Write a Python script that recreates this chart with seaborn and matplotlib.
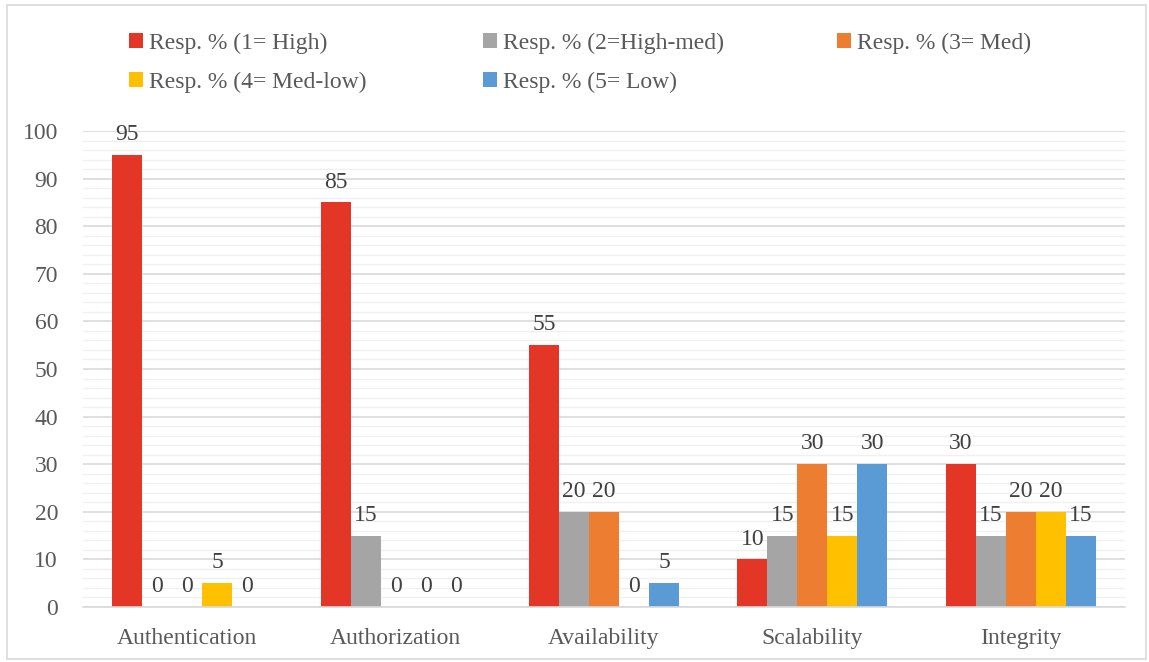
import matplotlib
matplotlib.use("Agg")
import matplotlib.pyplot as plt
from matplotlib.patches import Rectangle, Patch
from matplotlib.ticker import MultipleLocator
import seaborn as sns
import pandas as pd

categories = ["Authentication", "Authorization", "Availability", "Scalability", "Integrity"]
series_names = [
    "Resp. % (1= High)",
    "Resp. % (2=High-med)",
    "Resp. % (3= Med)",
    "Resp. % (4= Med-low)",
    "Resp. % (5= Low)",
]
high = [95, 85, 55, 10, 30]
high_med = [0, 15, 20, 15, 15]
med = [0, 0, 20, 30, 20]
med_low = [5, 0, 0, 15, 20]
low = [0, 0, 5, 30, 15]
colors = ["#E33627", "#A5A5A5", "#ED7D31", "#FFC000", "#5B9BD5"]

series_values = [high, high_med, med, med_low, low]
rows = []
for name, vals in zip(series_names, series_values):
    for cat, v in zip(categories, vals):
        rows.append({"Category": cat, "Series": name, "Value": v})
df = pd.DataFrame(rows)

sns.set_style("white")
plt.rcParams["font.family"] = ["Liberation Serif", "DejaVu Serif"]
text_color = "#595959"
fs = 17

fig = plt.figure(figsize=(11.49, 6.62), dpi=100)
W, H = 1149, 662
ax = fig.add_axes([83 / W, (H - 607) / H, (1125 - 83) / W, (607 - 131) / H])

sns.barplot(data=df, x="Category", y="Value", hue="Series", order=categories,
            hue_order=series_names, palette=colors, width=0.72, gap=0,
            saturation=1, errorbar=None, ax=ax, legend=False, linewidth=0)

for container in ax.containers:
    ax.bar_label(container, fmt="%g", padding=7, fontsize=fs, color="#404040")

ax.set_ylim(0, 100)
ax.set_xlim(-0.5, len(categories) - 0.5)
ax.yaxis.set_major_locator(MultipleLocator(10))
ax.yaxis.set_minor_locator(MultipleLocator(2))
ax.grid(axis="y", which="major", color="#D9D9D9", linewidth=1.2, zorder=0)
ax.grid(axis="y", which="minor", color="#F0F0F0", linewidth=1.0, zorder=0)
ax.set_axisbelow(True)
for side in ["left", "right", "top"]:
    ax.spines[side].set_visible(False)
ax.spines["bottom"].set_color("#D9D9D9")
ax.spines["bottom"].set_linewidth(1.2)
ax.tick_params(axis="both", which="both", length=0, labelsize=fs, colors=text_color)
ax.tick_params(axis="x", pad=15)
ax.tick_params(axis="y", pad=18)
ax.set_xlabel("")
ax.set_ylabel("")

# Legend laid out row-wise in three equal-width columns
handles = [Patch(facecolor=c, edgecolor="none") for c in colors]
col_x = [129 / W, 483 / W, 837 / W]
columns = [[0, 3], [1, 4], [2]]
for cx, idxs in zip(col_x, columns):
    leg = fig.legend([handles[i] for i in idxs], [series_names[i] for i in idxs],
                     loc="upper left", bbox_to_anchor=(cx, 1 - 33 / H),
                     frameon=False, fontsize=fs, handlelength=0.6, handleheight=0.6,
                     handletextpad=0.25, labelspacing=0.75, borderaxespad=0,
                     borderpad=0)
    for t in leg.get_texts():
        t.set_color(text_color)

# Chart frame
fig.add_artist(Rectangle((7 / W, 3 / H), (1146 - 7) / W, (657 - 3) / H,
                         transform=fig.transFigure, fill=False,
                         edgecolor="#D9D9D9", linewidth=1.2))

fig.savefig("out.png", dpi=100)
